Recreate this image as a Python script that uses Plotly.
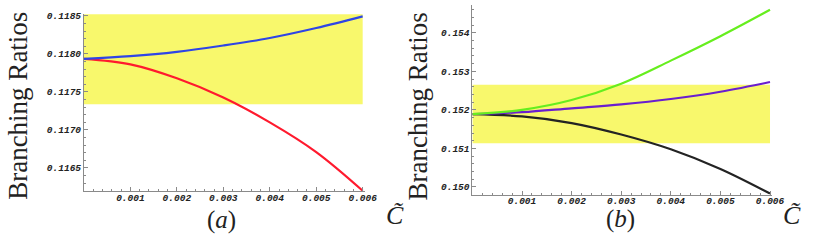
import plotly.graph_objects as go

# ---- data ----
c_vals = [0.0, 0.001, 0.002, 0.003, 0.004, 0.005, 0.006]

# panel (a)
br_a_blue = [0.117935, 0.117970, 0.118026, 0.118110, 0.118209, 0.118340, 0.118493]
br_a_red = [0.117935, 0.117862, 0.117679, 0.117426, 0.117099, 0.116708, 0.116199]
band_a = [0.117337, 0.118520]

# panel (b)
br_b_green = [0.151888, 0.152000, 0.152255, 0.152679, 0.153277, 0.153910, 0.154595]
br_b_purple = [0.151888, 0.151939, 0.152041, 0.152143, 0.152281, 0.152470, 0.152723]
br_b_black = [0.151888, 0.151829, 0.151658, 0.151361, 0.150978, 0.150467, 0.149829]
band_b = [0.151132, 0.152654]

x_ticks = [0.001, 0.002, 0.003, 0.004, 0.005, 0.006]
x_tick_text = ["0.001", "0.002", "0.003", "0.004", "0.005", "0.006"]
y_ticks_a = [0.1165, 0.1170, 0.1175, 0.1180, 0.1185]
y_tick_text_a = ["0.1165", "0.1170", "0.1175", "0.1180", "0.1185"]
y_ticks_b = [0.150, 0.151, 0.152, 0.153, 0.154]
y_tick_text_b = ["0.150", "0.151", "0.152", "0.153", "0.154"]

W, H = 822, 243

def px(x):
    return x / W

def py(y):
    return 1 - y / H

fig = go.Figure()

def line(x, y, color, xa, ya):
    fig.add_trace(go.Scatter(x=x, y=y, mode="lines", xaxis=xa, yaxis=ya,
                             line=dict(color=color, width=2.2, shape="spline"),
                             showlegend=False, hoverinfo="skip"))

line(c_vals, br_a_red, "#FF1A2E", "x", "y")
line(c_vals, br_a_blue, "#2E45E6", "x", "y")
line(c_vals, br_b_black, "#232323", "x2", "y2")
line(c_vals, br_b_purple, "#6A1ECF", "x2", "y2")
line(c_vals, br_b_green, "#66EE1E", "x2", "y2")

tickfont = dict(family="Liberation Mono, monospace", size=9.5, color="#222", style="italic", weight="bold")
axcol = "#8a8a8a"

def xaxis(dom, anchor):
    return dict(domain=dom, range=[0, 0.00604], showline=True, linecolor=axcol, linewidth=1,
                anchor=anchor, showgrid=False, zeroline=False, tickvals=x_ticks, ticktext=x_tick_text,
                ticks="inside", ticklen=4, tickcolor=axcol, tickfont=tickfont, ticklabelstandoff=-3,
                minor=dict(dtick=0.0002, tick0=0, ticks="inside", ticklen=2, tickcolor=axcol, showgrid=False))

def yaxis(dom, rng, tv, tt, minor, anchor):
    return dict(domain=dom, range=rng, showline=True, linecolor=axcol, linewidth=1, anchor=anchor,
                showgrid=False, zeroline=False, tickvals=tv, ticktext=tt,
                ticks="inside", ticklen=4, tickcolor=axcol, tickfont=tickfont,
                minor=dict(dtick=minor, tick0=0, ticks="inside", ticklen=2, tickcolor=axcol, showgrid=False))

fig.update_layout(
    width=W, height=H, margin=dict(l=0, r=0, t=0, b=0),
    paper_bgcolor="white", plot_bgcolor="rgba(0,0,0,0)",
    xaxis=xaxis([px(85.3), px(370.4)], "y"),
    yaxis=yaxis([py(191), py(11.7)], [0.11619, 0.11853], y_ticks_a, y_tick_text_a, 0.0001, "x"),
    xaxis2=xaxis([px(480), px(784.4)], "y2"),
    yaxis2=yaxis([py(194.3), py(3.0)], [0.1498, 0.15472], y_ticks_b, y_tick_text_b, 0.0002, "x2"),
)

fig.add_shape(type="rect", xref="x", yref="y", x0=0, x1=0.006, y0=band_a[0], y1=band_a[1],
              fillcolor="#F8F86C", line=dict(width=0), layer="below")
fig.add_shape(type="rect", xref="x2", yref="y2", x0=0, x1=0.006, y0=band_b[0], y1=band_b[1],
              fillcolor="#F8F86C", line=dict(width=0), layer="below")

serif = "Liberation Serif, Times New Roman, serif"
def ann(text, x, y, size, angle=0, italic=False):
    fig.add_annotation(text=text, xref="paper", yref="paper", x=px(x), y=py(y),
                       showarrow=False, textangle=angle, xanchor="center", yanchor="middle",
                       font=dict(family=serif, size=size, color="#222",
                                 style="italic" if italic else "normal"))

ann("Branching Ratios", 18, 105, 27, angle=-90)
ann("Branching Ratios", 425, 105, 27, angle=-90)
ann("(<i>a</i>)", 225.5, 220, 25)
ann("(<i>b</i>)", 630, 219, 25)
ann("C\u0303", 401, 215, 26, italic=True)
ann("C\u0303", 805, 215, 26, italic=True)

fig.write_html("out.html", config={"displayModeBar": False},
               post_script="document.body.style.margin='0';document.body.style.overflow='hidden';")
